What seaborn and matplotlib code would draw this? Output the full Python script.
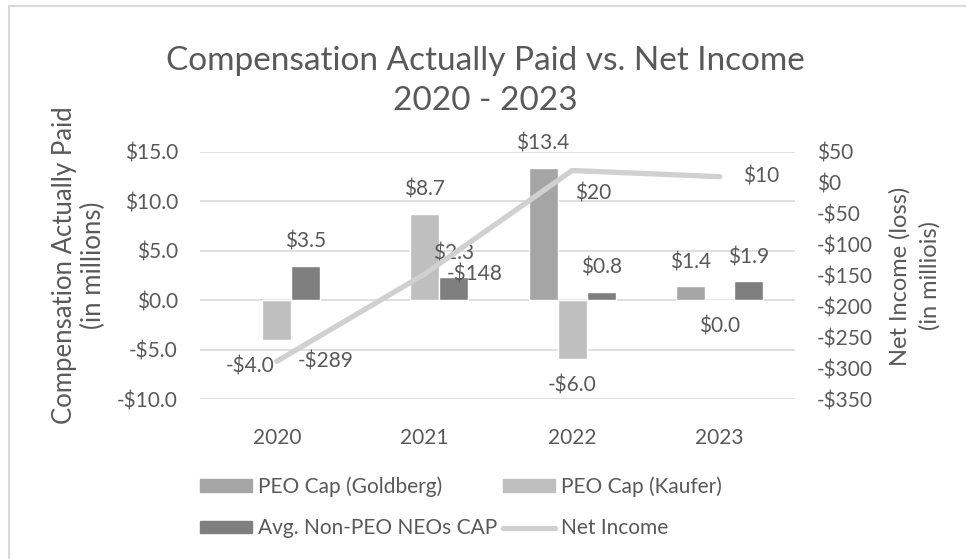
import numpy as np
import pandas as pd
import matplotlib
matplotlib.use("Agg")
import matplotlib.pyplot as plt
import seaborn as sns
from matplotlib.patches import Patch, Rectangle
from matplotlib.lines import Line2D

# values (millions)
years = ["2020", "2021", "2022", "2023"]
peo_goldberg = [np.nan, np.nan, 13.4, 1.4]
peo_kaufer = [-4.0, 8.7, -6.0, 0.0]
avg_non_peo = [3.5, 2.3, 0.8, 1.9]
net_income = [-289, -148, 20, 10]

series_names = ["PEO Cap (Goldberg)", "PEO Cap (Kaufer)", "Avg. Non-PEO NEOs CAP"]
left_ticks = [-10, -5, 0, 5, 10, 15]
right_ticks = [-350, -300, -250, -200, -150, -100, -50, 0, 50]

bar_colors = ["#a5a5a5", "#bfbfbf", "#7f7f7f"]
line_color = "#d0d0d0"
txt = "#595959"
grid_c = "#d9d9d9"

df = pd.DataFrame({"year": years,
                   series_names[0]: peo_goldberg,
                   series_names[1]: peo_kaufer,
                   series_names[2]: avg_non_peo})
long_df = df.melt(id_vars="year", var_name="series", value_name="cap")

sns.set_theme(style="white")
plt.rcParams["font.family"] = ["Lato", "DejaVu Sans"]
plt.rcParams["text.color"] = txt

W, H = 966, 559
fig = plt.figure(figsize=(W / 100, H / 100), dpi=100)
ax = fig.add_axes([200 / W, 1 - 399 / H, 595 / W, 247 / H])

bar_width = 0.59
sns.barplot(data=long_df, x="year", y="cap", hue="series", hue_order=series_names,
            palette=bar_colors, width=bar_width, saturation=1, errorbar=None,
            legend=False, ax=ax, zorder=3)

ax.set_ylim(-10, 15)
ax.set_yticks(left_ticks)
ax.set_yticklabels([f"${v:.1f}" if v >= 0 else f"-${-v:.1f}" for v in left_ticks])
ax.yaxis.grid(True, color=grid_c, linewidth=1.2, zorder=0)
ax.set_axisbelow(True)
ax.set_xlabel("")
ax.set_ylabel("")
ax.tick_params(axis="y", length=0, pad=16, labelsize=15, labelcolor=txt)
ax.tick_params(axis="x", length=0, pad=21, labelsize=15, labelcolor=txt)
for s in ax.spines.values():
    s.set_visible(False)

# bar data labels
off = bar_width / 3
for j, vals in enumerate([peo_goldberg, peo_kaufer, avg_non_peo]):
    for i, v in enumerate(vals):
        if np.isnan(v):
            continue
        x = i + (j - 1) * off
        lab = f"${v:.1f}" if v >= 0 else f"-${-v:.1f}"
        if v > 0:
            y, dy = v, 17.5
        else:
            y, dy = v, -19
        dx = -19.5 if (i == 0 and j == 1) else 0
        ax.annotate(lab, (x, y), xytext=(dx, dy), textcoords="offset points",
                    ha="center", va="center", fontsize=15, color=txt, zorder=5)

# net income line on secondary axis
ax2 = ax.twinx()
xpos = np.arange(len(years))
sns.lineplot(x=xpos, y=net_income, color=line_color, linewidth=3.8, ax=ax2, zorder=4)
ax2.set_ylim(-350, 50)
ax2.set_yticks(right_ticks)
ax2.set_yticklabels([f"${v}" if v >= 0 else f"-${-v}" for v in right_ticks])
ax2.tick_params(axis="y", length=0, pad=16, labelsize=15, labelcolor=txt)
ax2.set_ylabel("")
for s in ax2.spines.values():
    s.set_visible(False)
ax.set_xlim(-0.52, 3.51)

line_offsets = [(15, 0, "left"), (16, 0, "left"), (15, -16.5, "center"), (17, 0, "left")]
for i, v in enumerate(net_income):
    dx, dy, ha = line_offsets[i]
    lab = f"${v}" if v >= 0 else f"-${-v}"
    ax2.annotate(lab, (xpos[i], v), xytext=(dx, dy), textcoords="offset points",
                 ha=ha, va="center", fontsize=15, color=txt, zorder=6)

# titles and axis labels
fig.text(485 / W, 1 - 81 / H, "Compensation Actually Paid vs. Net Income\n2020 - 2023",
         ha="center", va="center", fontsize=24, color=txt, linespacing=1.4)
fig.text(79 / W, 1 - 265 / H, "Compensation Actually Paid\n(in millions)",
         ha="center", va="center", rotation=90, fontsize=18.5, color=txt, linespacing=1.24)
fig.text(915 / W, 1 - 276 / H, "Net Income (loss)\n(in milliois)",
         ha="center", va="center", rotation=90, fontsize=17, color=txt, linespacing=1.45)

handles = [Patch(color=bar_colors[0]), Patch(color=bar_colors[2]),
           Patch(color=bar_colors[1]), Line2D([], [], color=line_color, linewidth=3.8)]
labels = [series_names[0], series_names[2], series_names[1], "Net Income"]
fig.legend(handles, labels, loc="upper left", bbox_to_anchor=(200 / W, 1 - 476 / H),
           ncol=2, frameon=False, fontsize=15, handlelength=2.5, handleheight=0.55,
           handletextpad=0.3, columnspacing=0.25, labelspacing=1.05,
           borderpad=0, borderaxespad=0, labelcolor=txt)

# chart border (top and left edges visible)
fig.add_artist(Rectangle((9 / W, -0.1), 2, 1 - 6 / H + 0.1, transform=fig.transFigure,
                         fill=False, edgecolor=grid_c, linewidth=1.5))

fig.savefig("out.png", dpi=100)
